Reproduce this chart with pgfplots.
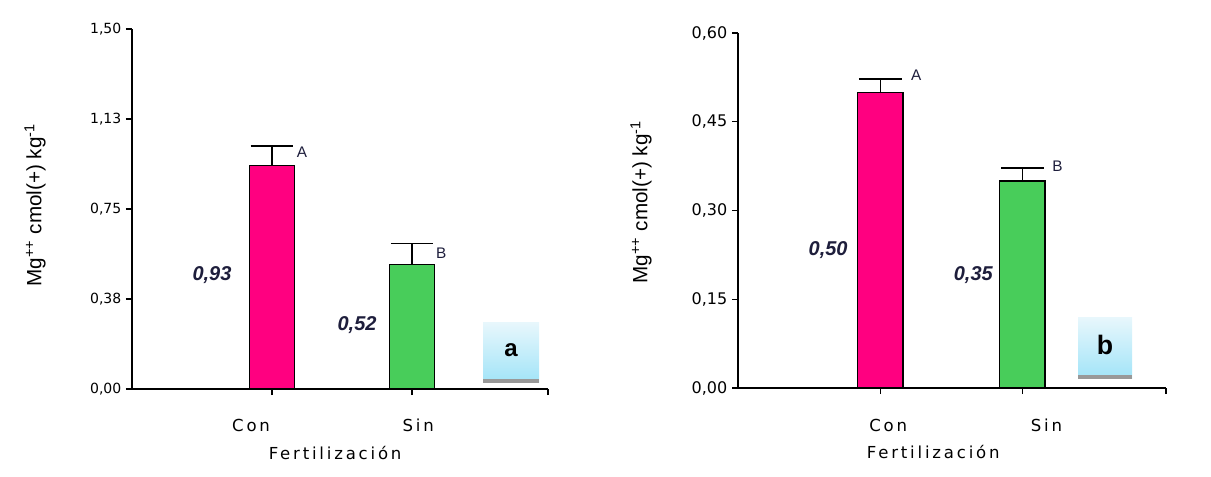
\documentclass[border=0pt]{standalone}
\usepackage{fontspec}
\setmainfont{Liberation Sans}
\newfontfamily\dejavu{DejaVu Sans}
\newfontfamily\dejavuwide[LetterSpace=17]{DejaVu Sans}
\usepackage{pgfplots}
\usepackage{pgfplotstable}
\pgfplotsset{compat=1.18}
\definecolor{conpink}{HTML}{FF0080}
\definecolor{singreen}{HTML}{48CD5A}
\definecolor{vallab}{HTML}{1E1E3C}
\definecolor{boxtop}{HTML}{E8F7FC}
\definecolor{boxbot}{HTML}{A2E4F8}

\pgfplotstableread[row sep=\\]{x y e\\ 1 0.93 0.083\\}\aCon
\pgfplotstableread[row sep=\\]{x y e\\ 2 0.52 0.085\\}\aSin
\pgfplotstableread[row sep=\\]{x y e\\ 1 0.50 0.022\\}\bCon
\pgfplotstableread[row sep=\\]{x y e\\ 2 0.35 0.022\\}\bSin

\pgfplotsset{
 panel/.style={
  scale only axis, clip=false, ymin=0, xmin=0,
  axis x line*=bottom, axis y line*=left,
  axis line style={line width=1pt,-},
  tick align=outside, major tick length=4.5pt,
  tick style={line width=1pt,black},
  xticklabels={},
 },
 barA/.style={ybar, bar shift=0pt, bar width=0.32, draw=black, line width=1pt, fill=#1,
  error bars/.cd, y dir=plus, y explicit,
  error bar style={line width=1pt,black},
  error mark options={rotate=90,mark size=16pt,line width=1pt,black}},
}
\tikzset{
 vlab/.style={font=\bfseries\itshape\fontsize{15}{17}\selectfont,text=vallab,fill=white,inner sep=1pt},
 letter/.style={font=\fontsize{11.5}{13}\selectfont,text=vallab},
 cat/.style={font=\dejavuwide\fontsize{12.4}{14}\selectfont},
}

\begin{document}
\begin{tikzpicture}
\path[use as bounding box] (0,0) rectangle (908.25pt,-357pt);

% ---------- panel a ----------
\begin{axis}[panel,
 at={(99pt,-291.75pt)}, anchor=south west,
 width=312pt, height=270pt,
 xmax=2.97, ymax=1.5,
 xtick={1,2,2.97},
 ytick={0,0.375,0.75,1.125,1.5},
 yticklabels={{0,00},{0,38},{0,75},{1,13},{1,50}},
 yticklabel style={font=\dejavu\fontsize{10.5}{12}\selectfont,text=black},
]
\addplot[barA=conpink] table[x=x,y=y,y error=e]{\aCon};
\addplot[barA=singreen] table[x=x,y=y,y error=e]{\aSin};
\node[vlab] at (axis cs:0.571,0.475) {0,93};
\node[vlab] at (axis cs:1.607,0.267) {0,52};
\node[letter] at (axis cs:1.214,0.985) {A};
\node[letter] at (axis cs:2.207,0.567) {B};
\node[cat] at (axis cs:0.85,-0.15) {Con};
\node[cat] at (axis cs:2.043,-0.15) {Sin};
\node[cat] at (axis cs:1.45,-0.267) {Fertilización};
\end{axis}

% ---------- panel b ----------
\begin{axis}[panel,
 at={(553.5pt,-291pt)}, anchor=south west,
 width=321pt, height=266.25pt,
 xmax=3.01, ymax=0.6,
 xtick={1,2,3.01},
 ytick={0,0.15,0.3,0.45,0.6},
 yticklabels={{0,00},{0,15},{0,30},{0,45},{0,60}},
 yticklabel style={font=\dejavu\fontsize{12}{14}\selectfont,text=black},
]
\addplot[barA=conpink] table[x=x,y=y,y error=e]{\bCon};
\addplot[barA=singreen] table[x=x,y=y,y error=e]{\bSin};
\node[vlab] at (axis cs:0.634,0.233) {0,50};
\node[vlab] at (axis cs:1.655,0.191) {0,35};
\node[letter] at (axis cs:1.254,0.529) {A};
\node[letter] at (axis cs:2.246,0.375) {B};
\node[cat] at (axis cs:1.056,-0.0625) {Con};
\node[cat] at (axis cs:2.169,-0.0625) {Sin};
\node[cat] at (axis cs:1.373,-0.108) {Fertilización};
\end{axis}

% ---------- overlays ----------
\begin{scope}[x=0.75pt,y=-0.75pt]
 \node[rotate=90,font=\fontsize{15.5}{17}\selectfont] at (35,205) {Mg\textsuperscript{++} cmol(+) kg\textsuperscript{-1}};
 \node[rotate=90,font=\fontsize{15.5}{17}\selectfont] at (641,202) {Mg\textsuperscript{++} cmol(+) kg\textsuperscript{-1}};
 \shade[top color=boxtop,bottom color=boxbot] (483,322) rectangle (539,382);
 \fill[gray!80] (483,379) rectangle (539,383);
 \node[font=\bfseries\fontsize{18}{20}\selectfont] at (511,350) {a};
 \shade[top color=boxtop,bottom color=boxbot] (1078,317) rectangle (1132,378);
 \fill[gray!80] (1078,375) rectangle (1132,379);
 \node[font=\bfseries\fontsize{20}{22}\selectfont] at (1105,345) {b};
\end{scope}
\end{tikzpicture}
\end{document}
